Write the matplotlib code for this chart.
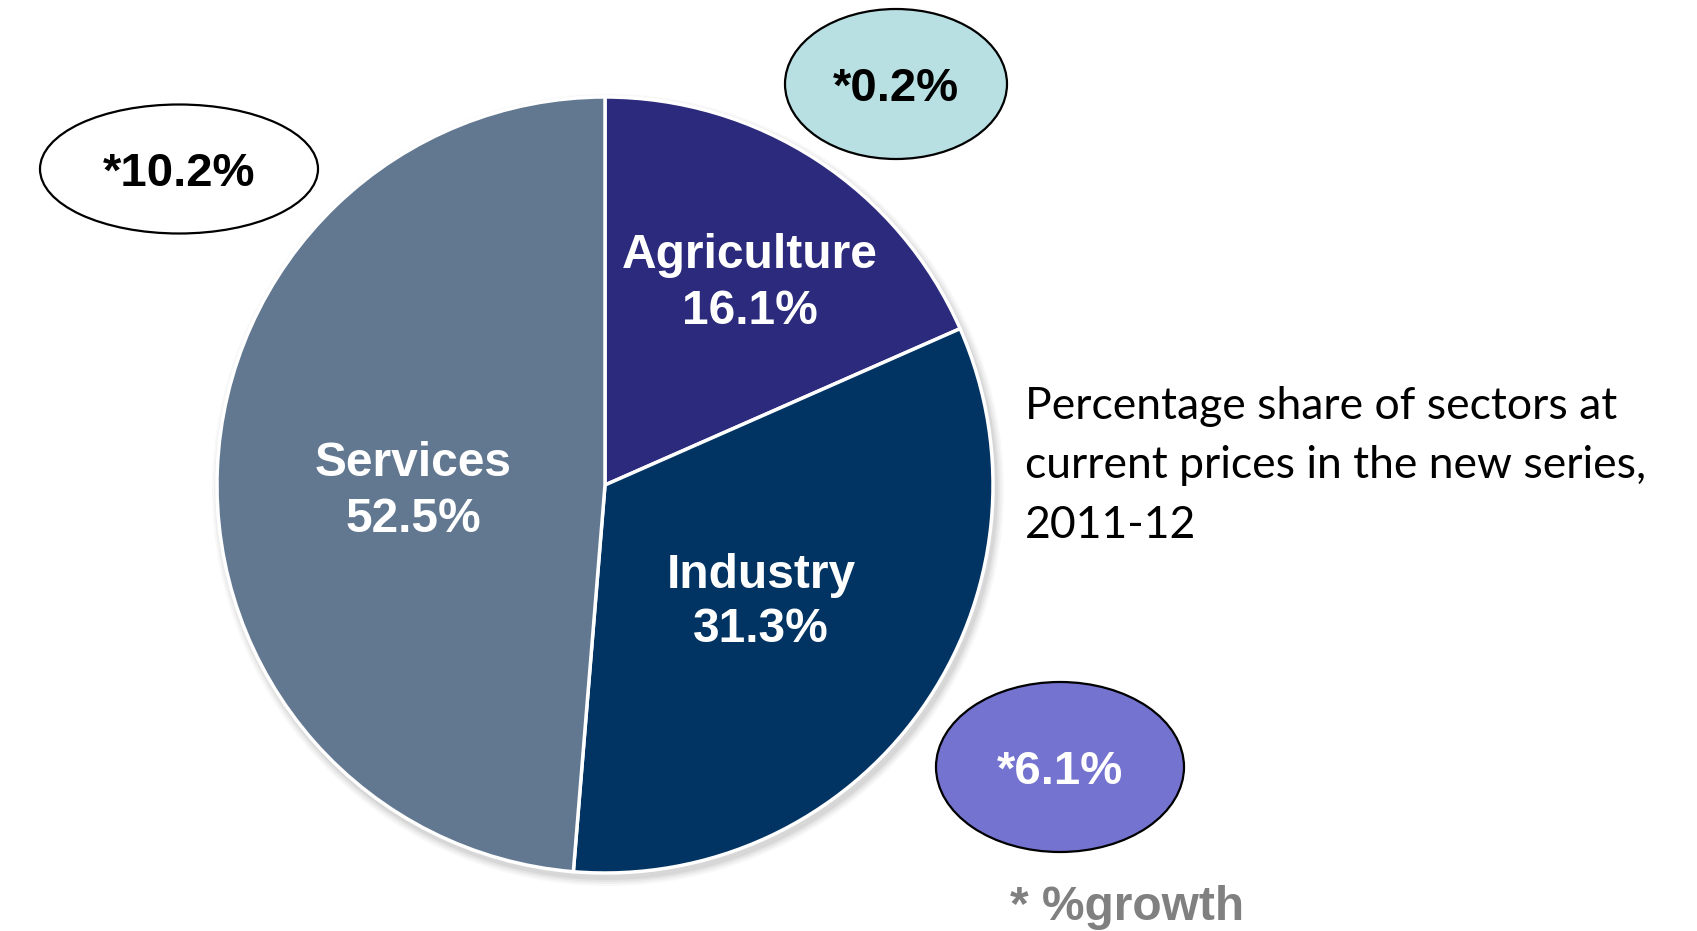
import matplotlib
matplotlib.use("Agg")
import matplotlib.pyplot as plt
from matplotlib.patches import Ellipse, Circle

# ---- data ----
sectors = ["Agriculture", "Industry", "Services"]
slice_shares = [18.4, 32.9, 48.7]          # slice sizes as drawn
share_labels = ["16.1%", "31.3%", "52.5%"]  # labels as printed
growth_labels = ["*0.2%", "*6.1%", "*10.2%"]
sector_colors = ["#2B2A7C", "#023463", "#627891"]
bubble_colors = ["#B8E0E3", "#7474D0", "#FFFFFF"]
bubble_text_colors = ["black", "white", "black"]
note_text = "Percentage share of sectors at\ncurrent prices in the new series,\n2011-12"
footnote = "* %growth"

W, H = 1697, 931
fig = plt.figure(figsize=(W / 100, H / 100), dpi=100)
ax = fig.add_axes([0, 0, 1, 1])

def Y(py):
    return H - py

cx, cy, r = 605, Y(485), 388

# soft shadow
for dr, a in [(8, 0.05), (6, 0.07), (4, 0.09), (2, 0.12)]:
    ax.add_patch(Circle((cx + 3, cy - 5), r + dr, color="#808080", alpha=a, lw=0, zorder=0))

ax.pie(slice_shares, colors=sector_colors, startangle=90, counterclock=False,
       center=(cx, cy), radius=r,
       wedgeprops=dict(edgecolor="white", linewidth=2.5), frame=True)
ax.set_xlim(0, W)
ax.set_ylim(0, H)
ax.set_aspect("equal")
ax.axis("off")

lab_pos = [(750, 255, 312), (761, 575, 630), (413, 464, 520)]
for name, lab, (x, y1, y2) in zip(sectors, share_labels, lab_pos):
    ax.text(x, Y(y1), name, ha="center", va="center", color="white",
            fontsize=34.5, fontweight="bold", family="Liberation Sans")
    ax.text(x, Y(y2), lab, ha="center", va="center", color="white",
            fontsize=34.5, fontweight="bold", family="Liberation Sans")

bubbles = [(896, 84, 222, 150), (1060, 767, 248, 170), (179, 169, 278, 129)]
for (bx, by, bw, bh), txt, fc, tc in zip(bubbles, growth_labels, bubble_colors, bubble_text_colors):
    ax.add_patch(Ellipse((bx, Y(by)), bw, bh, facecolor=fc, edgecolor="black", lw=1.6, zorder=3))
    ax.text(bx, Y(by + 5), txt, ha="center", va="center", color=tc, fontsize=34,
            fontweight="bold", family="Liberation Sans", zorder=4)

ax.text(1025, Y(466), note_text, ha="left", va="center", fontsize=32,
        family="Lato", color="black", linespacing=1.55)
ax.text(1010, Y(908), footnote, ha="left", va="center", fontsize=34.5,
        fontweight="bold", family="Liberation Sans", color="#808080")

fig.savefig("out.png", dpi=100)
